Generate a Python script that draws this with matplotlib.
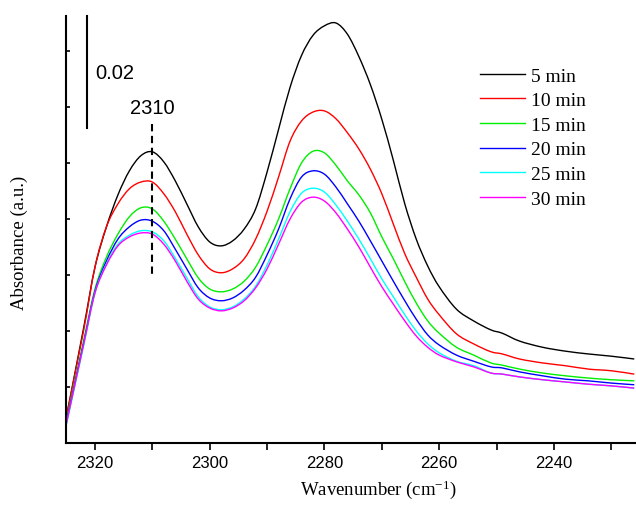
import numpy as np
import matplotlib
matplotlib.use("Agg")
import matplotlib.pyplot as plt
from matplotlib.path import Path
from matplotlib.patches import PathPatch
from matplotlib.lines import Line2D
from matplotlib.ticker import MultipleLocator, NullFormatter

# Wavenumber grid (cm-1) shared by all spectra
wavenumber = [2325, 2322, 2320, 2318, 2316, 2314, 2312, 2310, 2308, 2306,
              2304, 2302, 2300, 2298, 2296, 2294, 2292, 2290, 2288, 2286,
              2284, 2282, 2280, 2278, 2276, 2274, 2272, 2270, 2268, 2266,
              2264, 2262, 2260, 2257, 2254, 2251, 2249, 2246, 2242, 2238,
              2234, 2230, 2226]

abs_5min = [0.0046, 0.0204, 0.0314, 0.0386, 0.0443, 0.0486, 0.0513, 0.0520, 0.0502, 0.0468,
            0.0427, 0.0386, 0.0359, 0.0352, 0.0361, 0.0382, 0.0418, 0.0484, 0.0560, 0.0635,
            0.0692, 0.0728, 0.0745, 0.0750, 0.0730, 0.0690, 0.0640, 0.0578, 0.0505, 0.0427,
            0.0364, 0.0316, 0.0279, 0.0239, 0.0218, 0.0202, 0.0196, 0.0182, 0.0171, 0.0164,
            0.0159, 0.0155, 0.0150]

abs_10min = [0.0046, 0.0200, 0.0314, 0.0386, 0.0427, 0.0454, 0.0466, 0.0466, 0.0445, 0.0413,
             0.0373, 0.0336, 0.0311, 0.0304, 0.0311, 0.0329, 0.0364, 0.0414, 0.0475, 0.0539,
             0.0575, 0.0591, 0.0593, 0.0579, 0.0554, 0.0525, 0.0489, 0.0445, 0.0391, 0.0338,
             0.0296, 0.0257, 0.0229, 0.0195, 0.0177, 0.0163, 0.0159, 0.0150, 0.0143, 0.0138,
             0.0132, 0.0129, 0.0123]

abs_15min = [0.0039, 0.0182, 0.0275, 0.0332, 0.0373, 0.0404, 0.0420, 0.0418, 0.0396, 0.0364,
             0.0329, 0.0295, 0.0275, 0.0270, 0.0275, 0.0289, 0.0314, 0.0354, 0.0400, 0.0454,
             0.0500, 0.0521, 0.0518, 0.0496, 0.0468, 0.0443, 0.0411, 0.0368, 0.0329, 0.0288,
             0.0250, 0.0218, 0.0196, 0.0171, 0.0157, 0.0143, 0.0139, 0.0132, 0.0125, 0.0120,
             0.0116, 0.0113, 0.0111]

abs_20min = [0.0036, 0.0177, 0.0271, 0.0325, 0.0364, 0.0386, 0.0398, 0.0396, 0.0379, 0.0346,
             0.0311, 0.0277, 0.0259, 0.0254, 0.0259, 0.0273, 0.0296, 0.0336, 0.0382, 0.0436,
             0.0475, 0.0486, 0.0480, 0.0457, 0.0427, 0.0396, 0.0361, 0.0325, 0.0289, 0.0254,
             0.0221, 0.0193, 0.0175, 0.0157, 0.0146, 0.0136, 0.0134, 0.0127, 0.0120, 0.0114,
             0.0111, 0.0107, 0.0104]

abs_25min = [0.0032, 0.0173, 0.0268, 0.0320, 0.0355, 0.0371, 0.0379, 0.0377, 0.0361, 0.0330,
             0.0295, 0.0261, 0.0243, 0.0238, 0.0243, 0.0257, 0.0280, 0.0318, 0.0364, 0.0413,
             0.0446, 0.0455, 0.0448, 0.0425, 0.0396, 0.0364, 0.0329, 0.0293, 0.0261, 0.0229,
             0.0200, 0.0177, 0.0161, 0.0146, 0.0138, 0.0125, 0.0123, 0.0118, 0.0113, 0.0109,
             0.0105, 0.0102, 0.0098]

abs_30min = [0.0034, 0.0175, 0.0268, 0.0318, 0.0352, 0.0368, 0.0375, 0.0373, 0.0355, 0.0325,
             0.0289, 0.0257, 0.0241, 0.0236, 0.0241, 0.0254, 0.0277, 0.0311, 0.0355, 0.0400,
             0.0430, 0.0439, 0.0432, 0.0411, 0.0382, 0.0350, 0.0314, 0.0279, 0.0248, 0.0218,
             0.0191, 0.0171, 0.0157, 0.0145, 0.0136, 0.0125, 0.0123, 0.0118, 0.0113, 0.0109,
             0.0105, 0.0102, 0.0098]

labels = ["5 min", "10 min", "15 min", "20 min", "25 min", "30 min"]
colors = ["#000000", "#FF0000", "#00EE00", "#0000FF", "#00FFFF", "#FF00FF"]
series = [abs_5min, abs_10min, abs_15min, abs_20min, abs_25min, abs_30min]

peak_mark = 2310
scale_bar = 0.02

plt.rcParams["mathtext.fontset"] = "custom"
plt.rcParams["mathtext.rm"] = "Liberation Serif"
plt.rcParams["mathtext.it"] = "Liberation Serif:italic"


def spline_path(x, y):
    """Smooth Bezier path (Catmull-Rom tangents) through the measured points."""
    p = np.column_stack([x, y]).astype(float)
    n = len(p)
    verts = [p[0]]
    codes = [Path.MOVETO]
    for i in range(n - 1):
        p0 = p[i - 1] if i > 0 else p[i]
        p1, p2 = p[i], p[i + 1]
        p3 = p[i + 2] if i + 2 < n else p[i + 1]
        c1 = p1 + (p2 - p0) / 6.0
        c2 = p2 - (p3 - p1) / 6.0
        verts += [c1, c2, p2]
        codes += [Path.CURVE4] * 3
    return Path(verts, codes)


W, H = 636, 506
fig = plt.figure(figsize=(W / 100, H / 100), dpi=100)
ax = fig.add_axes([66 / W, (H - 444) / H, (W - 66) / W, (444 - 17) / H])

handles = []
for y, c, lab in zip(series, colors, labels):
    ax.add_patch(PathPatch(spline_path(wavenumber, y), facecolor="none",
                           edgecolor=c, lw=1.0))
    handles.append(Line2D([], [], color=c, lw=1.0))

ax.set_xlim(2325.05, 2225.7)
ax.set_ylim(0, 0.07625)

# axes styling
for s in ("top", "right"):
    ax.spines[s].set_visible(False)
for s in ("left", "bottom"):
    ax.spines[s].set_linewidth(1.5)

ax.xaxis.set_major_locator(MultipleLocator(20))
ax.xaxis.set_minor_locator(MultipleLocator(10))
ax.yaxis.set_major_locator(MultipleLocator(0.01))
ax.yaxis.set_major_formatter(NullFormatter())
ax.tick_params(axis="x", which="both", direction="out", length=5, width=1.2,
               labelsize=12, pad=4)
ax.tick_params(axis="y", which="major", direction="in", length=3, width=1.2)
for t in ax.get_xticklabels():
    t.set_fontfamily("Liberation Sans")

ax.set_xlabel("Wavenumber (cm$^{-1}$)", fontfamily="Liberation Serif", fontsize=13.5)
ax.xaxis.set_label_coords((378 - 66) / (W - 66), -0.080)
ax.set_ylabel("Absorbance (a.u.)", fontfamily="Liberation Serif", fontsize=13.5)
ax.yaxis.set_label_coords(-0.0667, (444 - 243) / 427)

# absorbance scale bar
x_bar = 2325.05 - (87 - 66) / 5.7375
y_top = 0.07625
ax.plot([x_bar, x_bar], [y_top, y_top - scale_bar], color="black", lw=1.5,
        clip_on=False)
ax.text(x_bar - 1.4, y_top - 0.0101, "0.02", fontfamily="Liberation Sans",
        fontsize=14.5, ha="left", va="center")

# band position marker
ax.plot([peak_mark, peak_mark], [(444 - 125) / 5600, (444 - 276) / 5600],
        color="black", lw=1.5, ls=(0, (3.5, 2.2)))
ax.text(peak_mark, (444 - 108) / 5600, str(peak_mark), fontfamily="Liberation Sans",
        fontsize=14.5, ha="center", va="center")

leg = ax.legend(handles, labels, loc="upper left",
                bbox_to_anchor=(480 / W, 1 - 68 / H),
                bbox_transform=fig.transFigure, frameon=False,
                prop={"family": "Liberation Serif", "size": 14},
                handlelength=2.3, handletextpad=0.3, labelspacing=0.36,
                borderpad=0, borderaxespad=0)

fig.savefig("out.png", dpi=100)
